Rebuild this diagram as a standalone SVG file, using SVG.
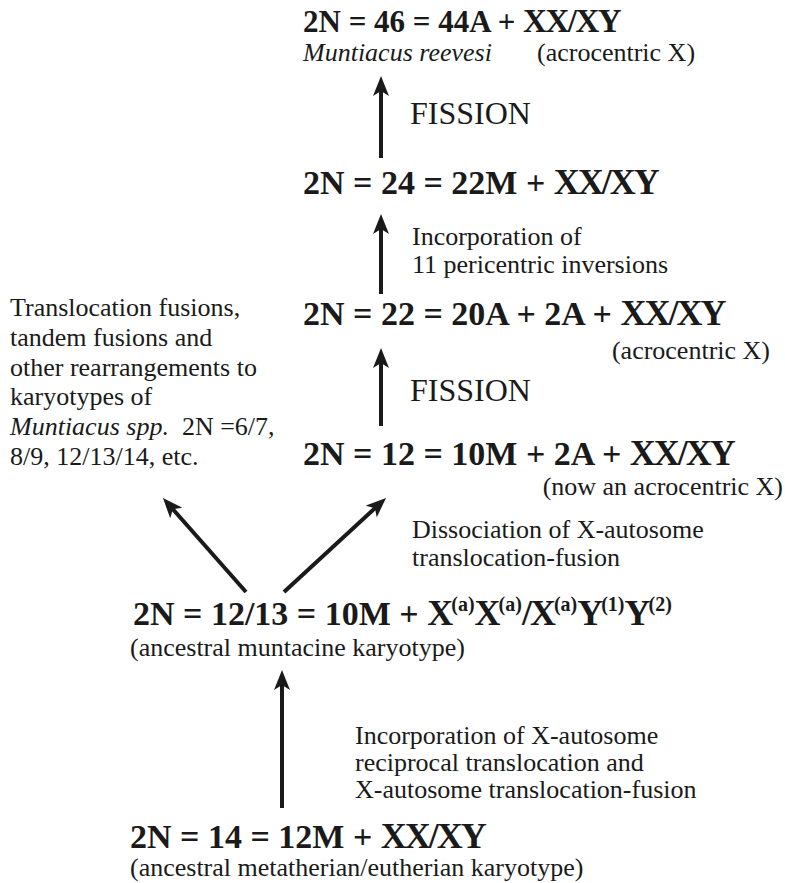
<svg xmlns="http://www.w3.org/2000/svg" width="785" height="883" viewBox="0 0 785 883">
<style>
text{font-family:"Liberation Serif","Times New Roman",serif;fill:#1a1a1a}
.f{font-weight:bold;font-size:34px}
.xx{font-size:36px;letter-spacing:-2px}
.f0{font-weight:bold;font-size:31px}
.xx0{font-size:33px;letter-spacing:-1.5px}
.sup{font-size:20px}
.t{font-size:26px}
.i{font-style:italic}
.fi{font-size:32px}
.arr{stroke:#1a1a1a;stroke-width:4;fill:none;marker-end:url(#ah)}
</style>
<defs>
<marker id="ah" viewBox="0 0 20 16" refX="8" refY="8" markerUnits="userSpaceOnUse" markerWidth="20" markerHeight="16" orient="auto">
<path d="M0,0 L20,8 L0,16 L5,8 z" fill="#1a1a1a"/>
</marker>
</defs>
<rect width="785" height="883" fill="#fff"/>
<g id="connectors">
<line class="arr" x1="381" y1="158" x2="381" y2="88"/>
<line class="arr" x1="381" y1="294" x2="381" y2="226"/>
<line class="arr" x1="381" y1="426" x2="381" y2="360"/>
<line class="arr" x1="246" y1="592" x2="170.9" y2="507"/>
<line class="arr" x1="284" y1="592" x2="377.2" y2="506.1"/>
<line class="arr" x1="282" y1="808" x2="282" y2="682"/>
</g>
<g id="n46">
<text class="f0" x="303" y="32">2N = 46 = 44A + <tspan class="xx0">XX/XY</tspan></text>
<text class="t i" x="303" y="61">Muntiacus reevesi</text>
<text class="t" x="537" y="61">(acrocentric X)</text>
</g>
<g id="l1"><text class="fi" x="410" y="124">FISSION</text></g>
<g id="n24"><text class="f" x="303" y="194">2N = 24 = 22M + <tspan class="xx">XX/XY</tspan></text></g>
<g id="l2">
<text class="t" x="412" y="245">Incorporation of</text>
<text class="t" x="412" y="273">11 pericentric inversions</text>
</g>
<g id="n22">
<text class="f" x="303" y="325">2N = 22 = 20A + 2A + <tspan class="xx">XX/XY</tspan></text>
<text class="t" x="770" y="359" text-anchor="end">(acrocentric X)</text>
</g>
<g id="l3"><text class="fi" x="410" y="401">FISSION</text></g>
<g id="n12">
<text class="f" x="303" y="465">2N = 12 = 10M + 2A + <tspan class="xx">XX/XY</tspan></text>
<text class="t" x="783" y="495" text-anchor="end">(now an acrocentric X)</text>
</g>
<g id="left">
<text class="t" x="10" y="316">Translocation fusions,</text>
<text class="t" x="10" y="346">tandem fusions and</text>
<text class="t" x="10" y="376">other rearrangements to</text>
<text class="t" x="10" y="405">karyotypes of</text>
<text class="t" x="10" y="435"><tspan class="i">Muntiacus spp.</tspan>&#160; 2N =6/7,</text>
<text class="t" x="10" y="465">8/9, 12/13/14, etc.</text>
</g>
<g id="l4">
<text class="t" x="412" y="538">Dissociation of X-autosome</text>
<text class="t" x="412" y="566">translocation-fusion</text>
</g>
<g id="n1213">
<text class="f" x="133" y="625">2N = 12/13 = 10M + <tspan class="xx">X</tspan><tspan class="sup" dy="-14">(a)</tspan><tspan class="xx" dy="14">X</tspan><tspan class="sup" dy="-14">(a)</tspan><tspan class="xx" dy="14">/X</tspan><tspan class="sup" dy="-14">(a)</tspan><tspan class="xx" dy="14">Y</tspan><tspan class="sup" dy="-14">(1)</tspan><tspan class="xx" dy="14">Y</tspan><tspan class="sup" dy="-14">(2)</tspan></text>
<text class="t" x="130" y="656">(ancestral muntacine karyotype)</text>
</g>
<g id="l5">
<text class="t" x="355" y="744">Incorporation of X-autosome</text>
<text class="t" x="355" y="771">reciprocal translocation and</text>
<text class="t" x="355" y="798">X-autosome translocation-fusion</text>
</g>
<g id="n14">
<text class="f" x="130" y="848">2N = 14 = 12M + <tspan class="xx">XX/XY</tspan></text>
<text class="t" x="130" y="876">(ancestral metatherian/eutherian karyotype)</text>
</g>
</svg>
